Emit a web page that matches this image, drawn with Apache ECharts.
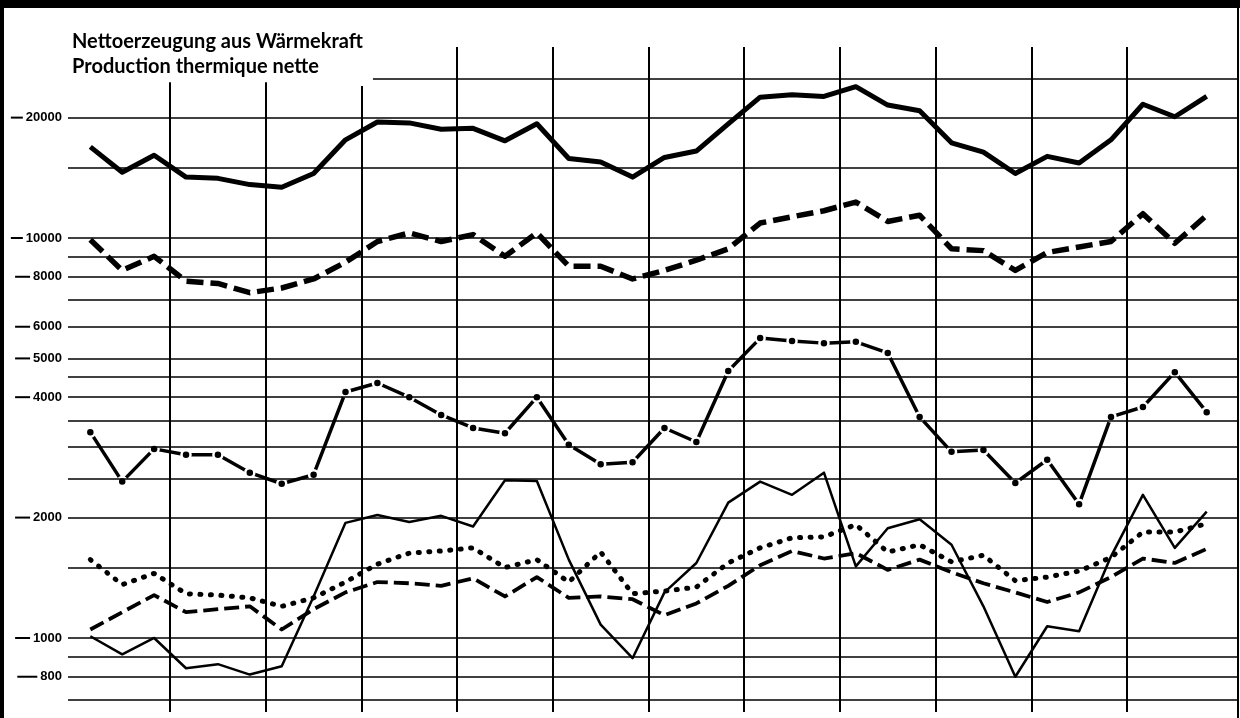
<!DOCTYPE html>
<html>
<head>
<meta charset="utf-8">
<script src="https://cdn.jsdelivr.net/npm/echarts@6/dist/echarts.min.js"></script>
<style>
  html, body { margin: 0; padding: 0; background: #fff; }
  #chart { width: 1240px; height: 718px; }
</style>
</head>
<body>
<div id="chart"></div>
<script>
// ---- Data (monthly values, 36 months; quarter boundaries drawn as vertical lines) ----
const titleLines = ['Nettoerzeugung aus Wärmekraft', 'Production thermique nette'];

const totalThick = [16900, 14600, 16100, 14200, 14100, 13600, 13400, 14500, 17600, 19500, 19400, 18700,
                    18800, 17500, 19300, 15800, 15500, 14200, 15900, 16500, 19300, 22500, 22800, 22600,
                    23900, 21500, 20800, 17300, 16400, 14500, 16000, 15400, 17600, 21600, 20100, 22600];

const dashedThick = [9900, 8300, 9000, 7800, 7700, 7300, 7500, 7900, 8700, 9800, 10300, 9800,
                     10200, 9000, 10300, 8500, 8500, 7900, 8300, 8800, 9400, 10900, 11300, 11700,
                     12300, 11000, 11400, 9400, 9300, 8300, 9200, 9500, 9800, 11500, 9700, 11400];

const dashDot = [3270, 2460, 2970, 2870, 2870, 2590, 2430, 2560, 4120, 4340, 4000, 3610,
                 3350, 3250, 4000, 3040, 2720, 2750, 3350, 3090, 4650, 5620, 5530, 5460,
                 5500, 5160, 3570, 2920, 2950, 2440, 2790, 2160, 3570, 3780, 4620, 3670];

const thinSolid = [1010, 910, 1000, 840, 860, 810, 850, 1270, 1940, 2030, 1950, 2020,
                   1900, 2480, 2470, 1570, 1080, 890, 1300, 1540, 2180, 2460, 2280, 2590,
                   1510, 1880, 1980, 1710, 1200, 800, 1070, 1040, 1600, 2280, 1680, 2070];

const dotted = [1570, 1360, 1450, 1290, 1280, 1260, 1200, 1260, 1380, 1530, 1630, 1650,
                1680, 1500, 1570, 1380, 1640, 1290, 1310, 1340, 1540, 1680, 1780, 1790,
                1920, 1640, 1710, 1550, 1610, 1390, 1420, 1470, 1590, 1840, 1840, 1930];

const dashedMedium = [1050, 1160, 1280, 1160, 1180, 1200, 1050, 1180, 1300, 1380, 1370, 1350,
                      1410, 1270, 1420, 1260, 1270, 1250, 1140, 1220, 1350, 1520, 1650, 1580,
                      1630, 1480, 1570, 1460, 1370, 1300, 1230, 1300, 1420, 1580, 1540, 1670];

const yTickLabels = [800, 1000, 2000, 4000, 5000, 6000, 8000, 10000, 20000];
const yGridValues = [700, 800, 900, 1000, 1500, 2000, 2500, 3000, 3500, 4000, 4500, 5000,
                     6000, 7000, 8000, 9000, 10000, 15000, 20000];
const quarterBounds = [2.5, 5.5, 8.5, 11.5, 14.5, 17.5, 20.5, 23.5, 26.5, 29.5, 32.5];

// ---- Build ----
const toXY = arr => arr.map((v, i) => [i, v]);
const Y_MIN = 653, Y_MAX = 30380, X_MIN = -0.7, X_MAX = 35.95;
const dashW = { 3: 20, 4: 15, 5: 12 };

const hLines = yGridValues.map(v => {
  const d = { yAxis: v };
  if (yTickLabels.includes(v)) {
    const s = String(v);
    d.label = {
      show: true,
      position: 'start',
      distance: 6,
      formatter: '{d|}{g|}{t|' + s + '}',
      rich: {
        d: { width: dashW[s.length], height: 2, backgroundColor: '#000' },
        g: { width: 3 },
        t: { fontFamily: 'Liberation Sans', fontWeight: 'bold', fontSize: 13, color: '#000' }
      }
    };
  }
  return d;
});
// top line (25000) starts right of the title
hLines.push([{ coord: [8.86, 25000] }, { coord: [X_MAX, 25000] }]);

const vLines = quarterBounds.map((q, i) => {
  const top = i < 2 ? 24500 : (i === 2 ? 24000 : 30030);
  return [{ coord: [q, top], lineStyle: { width: 2 } }, { coord: [q, Y_MIN] }];
});

const chart = echarts.init(document.getElementById('chart'), null, { renderer: 'canvas' });
chart.setOption({
  animation: false,
  backgroundColor: '#fff',
  title: {
    text: titleLines.join('\n'),
    left: 67,
    top: 24,
    textStyle: { fontFamily: 'Lato', fontWeight: 'bold', fontSize: 20, lineHeight: 25, color: '#000' }
  },
  graphic: [
    { type: 'rect', shape: { x: 0, y: 0, width: 1240, height: 8 }, style: { fill: '#000' }, z: 100 },
    { type: 'rect', shape: { x: 0, y: 0, width: 4, height: 718 }, style: { fill: '#000' }, z: 100 },
    { type: 'rect', shape: { x: 1237, y: 0, width: 2, height: 718 }, style: { fill: '#000' }, z: 100 }
  ],
  grid: { left: 68, right: 3, top: 45, bottom: 6 },
  xAxis: {
    type: 'value', min: X_MIN, max: X_MAX,
    show: false, splitLine: { show: false }
  },
  yAxis: {
    type: 'log', logBase: 10, min: Y_MIN, max: Y_MAX,
    axisLine: { show: false }, axisTick: { show: false },
    axisLabel: { show: false }, splitLine: { show: false }
  },
  series: [
    {
      name: 'grid', type: 'line', data: [], z: 1, silent: true,
      markLine: {
        silent: true, symbol: 'none', animation: false,
        label: { show: false },
        lineStyle: { type: 'solid', color: '#000', width: 1.7 },
        emphasis: { disabled: true },
        data: hLines.concat(vLines)
      }
    },
    {
      name: 'total', type: 'line', data: toXY(totalThick), z: 3, silent: true,
      symbol: 'none', lineStyle: { color: '#000', width: 5, join: 'round' }
    },
    {
      name: 'dashedThick', type: 'line', data: toXY(dashedThick), z: 3, silent: true,
      symbol: 'none', lineStyle: { color: '#000', width: 5.5, type: [17, 7], join: 'round' }
    },
    {
      name: 'dashDot', type: 'line', data: toXY(dashDot), z: 4, silent: true,
      symbol: 'circle', symbolSize: 9, showAllSymbol: true,
      itemStyle: { color: '#000', borderColor: '#fff', borderWidth: 2.5 },
      lineStyle: { color: '#000', width: 3.5, join: 'round' }
    },
    {
      name: 'thinSolid', type: 'line', data: toXY(thinSolid), z: 3, silent: true,
      symbol: 'none', lineStyle: { color: '#000', width: 2.5, join: 'round' }
    },
    {
      name: 'dotted', type: 'line', data: toXY(dotted), z: 3, silent: true,
      symbol: 'none', lineStyle: { color: '#000', width: 5, type: [1, 9.5], cap: 'round' }
    },
    {
      name: 'dashedMedium', type: 'line', data: toXY(dashedMedium), z: 3, silent: true,
      symbol: 'none', lineStyle: { color: '#000', width: 3.8, type: [15, 6], join: 'round' }
    }
  ]
});
</script>
</body>
</html>
